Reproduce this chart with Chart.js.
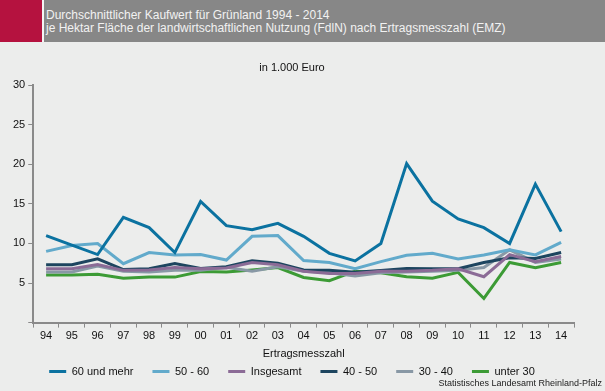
<!DOCTYPE html>
<html>
<head>
<meta charset="utf-8">
<script src="https://cdn.jsdelivr.net/npm/chart.js@4"></script>
<style>
  body { margin: 0; background: #ecedec; font-family: "Liberation Sans", Arial, sans-serif; }
  #wrap { position: relative; width: 605px; height: 391px; overflow: hidden; }
  #head { position: absolute; left: 0; top: 0; width: 605px; height: 42px; background: #878787; }
  #red { position: absolute; left: 0; top: 0; width: 42px; height: 42px; background: #b5123f; }
  #gap { position: absolute; left: 42px; top: 0; width: 2px; height: 42px; background: #f4f4f4; }
  #htext { position: absolute; left: 46px; top: 9px; color: #f2f2f2; font-size: 12px; line-height: 13px; }
  #chartBox { position: absolute; left: 0; top: 42px; width: 605px; height: 349px; }
  #src { position: absolute; right: 3px; top: 378px; font-size: 9px; color: #222; }
</style>
</head>
<body>
<div id="wrap">
  <div id="head"><div id="red"></div><div id="gap"></div>
    <div id="htext">Durchschnittlicher Kaufwert für Grünland 1994 - 2014<br>je Hektar Fläche der landwirtschaftlichen Nutzung (FdlN) nach Ertragsmesszahl (EMZ)</div>
  </div>
  <div id="chartBox"><canvas id="chart"></canvas></div>
  <div id="src">Statistisches Landesamt Rheinland-Pfalz</div>
</div>
<script>
// Jahre (Kurzform)
const years = ["94", "95", "96", "97", "98", "99", "00", "01", "02", "03", "04",
  "05", "06", "07", "08", "09", "10", "11", "12", "13", "14"];

// Kaufwerte in 1.000 Euro je EMZ-Klasse
const emz60plus = [11.0, 9.8, 8.6, 13.3, 12.0, 8.85, 15.3, 12.25, 11.75, 12.55, 10.9,
  8.75, 7.8, 10.0, 20.1, 15.35, 13.1, 12.0, 10.0, 17.5, 11.5];
const emz50to60 = [9.0, 9.75, 10.0, 7.45, 8.85, 8.55, 8.6, 7.9, 10.9, 11.0, 7.85,
  7.6, 6.8, 7.7, 8.5, 8.75, 8.05, 8.55, 9.2, 8.55, 10.15];
const insgesamt = [6.8, 6.8, 7.35, 6.6, 6.65, 6.95, 6.8, 6.9, 7.6, 7.3, 6.5,
  6.2, 6.2, 6.5, 6.5, 6.6, 6.8, 5.8, 8.6, 7.7, 8.35];
const emz40to50 = [7.3, 7.3, 8.05, 6.7, 6.8, 7.45, 6.85, 7.05, 7.8, 7.5, 6.65,
  6.6, 6.35, 6.6, 6.85, 6.8, 6.8, 7.6, 8.2, 8.1, 8.85];
const emz30to40 = [6.4, 6.4, 7.15, 6.5, 6.4, 6.6, 6.6, 7.0, 6.5, 7.05, 6.5,
  6.3, 5.9, 6.3, 6.4, 6.5, 6.6, 6.95, 9.2, 7.6, 8.05];
const unter30 = [6.0, 6.0, 6.1, 5.6, 5.75, 5.75, 6.45, 6.4, 6.65, 6.95, 5.7,
  5.3, 6.5, 6.3, 5.8, 5.6, 6.35, 3.05, 7.6, 6.95, 7.6];

const yTicks = [0, 5, 10, 15, 20, 25, 30];

function line(label, data, color) {
  return {
    label: label,
    data: data,
    borderColor: color,
    backgroundColor: color,
    borderWidth: 3,
    pointRadius: 0,
    tension: 0,
  };
}

const axisColor = "#8a8a8a";
Chart.defaults.font.family = "'Liberation Sans', Arial, sans-serif";
Chart.defaults.color = "#111";

new Chart(document.getElementById("chart"), {
  type: "line",
  data: {
    labels: years,
    datasets: [
      line("60 und mehr", emz60plus, "#0b72a0"),
      line("50 - 60", emz50to60, "#62aacb"),
      line("Insgesamt", insgesamt, "#8b6b96"),
      line("40 - 50", emz40to50, "#1d455f"),
      line("30 - 40", emz30to40, "#8898a5"),
      line("unter 30", unter30, "#3c9b35"),
    ],
  },
  options: {
    responsive: true,
    maintainAspectRatio: false,
    animation: false,
    layout: { padding: { left: 10, right: 31, top: 19, bottom: 4 } },
    plugins: {
      title: {
        display: true,
        text: "in 1.000 Euro",
        font: { size: 11, weight: "normal" },
        padding: { top: 0, bottom: 11 },
      },
      legend: {
        position: "bottom",
        labels: {
          boxWidth: 17,
          boxHeight: 3,
          padding: 19,
          font: { size: 11 },
          generateLabels: (chart) =>
            Chart.defaults.plugins.legend.labels.generateLabels(chart).map((l) => {
              l.lineWidth = 0;
              return l;
            }),
        },
      },
      tooltip: { enabled: false },
    },
    scales: {
      x: {
        offset: true,
        grid: {
          display: true,
          drawOnChartArea: false,
          offset: true,
          tickLength: 5,
          color: axisColor,
          tickColor: axisColor,
        },
        border: { color: axisColor, width: 2 },
        ticks: { font: { size: 11 }, padding: 2, maxRotation: 0 },
        title: {
          display: true,
          text: "Ertragsmesszahl",
          font: { size: 11 },
          padding: { top: 3, bottom: -14 },
        },
      },
      y: {
        min: 0,
        max: 30,
        afterBuildTicks: (s) => {
          s.ticks = yTicks.map((v) => ({ value: v }));
        },
        grid: {
          display: true,
          drawOnChartArea: false,
          tickLength: 5,
          color: axisColor,
          tickColor: axisColor,
        },
        border: { color: axisColor, width: 2 },
        ticks: {
          font: { size: 11 },
          padding: 3,
          callback: (v) => (v === 0 ? "" : v),
        },
      },
    },
  },
});
</script>
</body>
</html>
